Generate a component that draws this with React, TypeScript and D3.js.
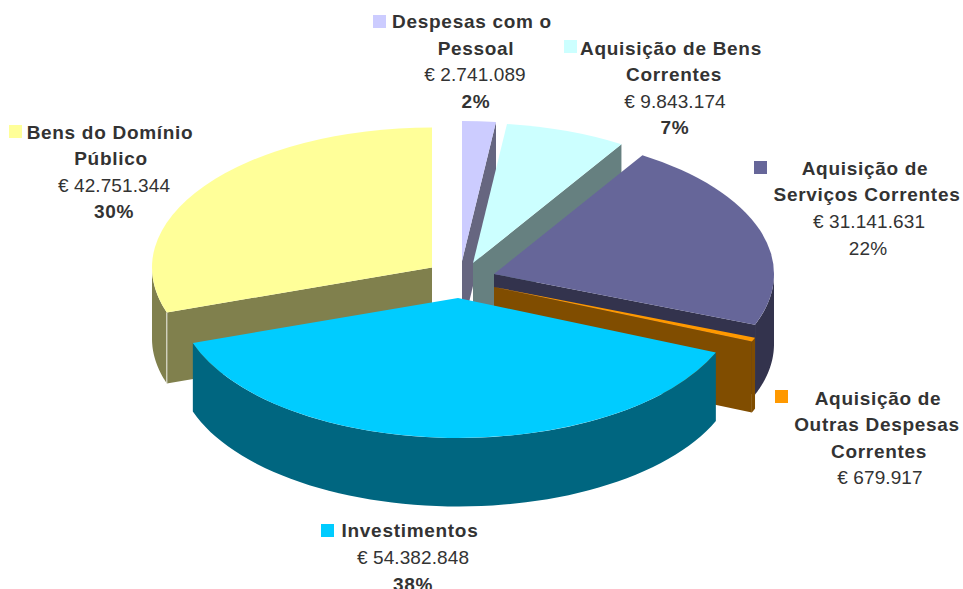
import React from "react";
import * as d3 from "d3";

const categories = ["Despesas com o Pessoal", "Aquisição de Bens Correntes", "Aquisição de Serviços Correntes", "Aquisição de Outras Despesas Correntes", "Investimentos", "Bens do Domínio Público"];
const values = [2741089, 9843174, 31141631, 679917, 54382848, 42751344];
const topColors = ["#CCCCFF", "#CCFFFF", "#666699", "#FF9900", "#00CCFF", "#FFFF99"];
const sideColors = ["#666680", "#668080", "#33334D", "#804D00", "#006680", "#80804D"];
const valueLabels = ["€ 2.741.089", "€ 9.843.174", "€ 31.141.631", "€ 679.917", "€ 54.382.848", "€ 42.751.344"];
const percentLabels = ["2%", "7%", "22%", "", "38%", "30%"];
const nameLines = [["Despesas com o", "Pessoal"], ["Aquisição de Bens", "Correntes"], ["Aquisição de", "Serviços Correntes"], ["Aquisição de", "Outras Despesas", "Correntes"], ["Investimentos"], ["Bens do Domínio", "Público"]];

// Layout (apex of each exploded slice, label anchors)
const RX = 280, RY = 140;
const depths = [70, 70, 70, 71, 68.5, 71];
const apexes: [number, number][] = [[462, 261], [473, 263], [494, 274], [494, 287], [458, 298], [432, 267.5]];
const swatches: [number, number][] = [[373, 15], [564, 40], [754, 161], [775, 390], [321, 524], [9, 125]];
const lineCenters = [[472, 476, 475, 476], [671, 674, 675, 675], [865, 867, 869, 868], [878, 877, 879, 880], [410, 413, 413], [110, 111, 114, 114]];
const lineBaselines = [[28, 54.5, 81, 107.5], [54.5, 81, 107.5, 134], [174.5, 201, 228, 254.5], [404.5, 431, 457.5, 484], [537, 564, 590.5], [138.5, 165, 191.5, 218]];
const lastPctRegular = [false, false, true, false, false, false];
const drawOrder = [0, 1, 2, 3, 5, 4];

const arcs = d3.pie<number>().sort(null)(values);
const topArc = d3.arc<d3.PieArcDatum<number>>().innerRadius(0).outerRadius(RX);
const line = d3.line();

const pt = (i: number, a: number, dy = 0): [number, number] => [
  apexes[i][0] + RX * Math.sin(a),
  apexes[i][1] - RY * Math.cos(a) + dy,
];

function wall(i: number, a: number) {
  const [x, y] = apexes[i];
  const p = pt(i, a);
  return line([[x, y], p, [p[0], p[1] + depths[i]], [x, y + depths[i]]]) + "Z";
}

function rim(i: number, a0: number, a1: number) {
  const lo = Math.max(a0, Math.PI / 2), hi = Math.min(a1, (3 * Math.PI) / 2);
  if (lo >= hi) return null;
  const angles = d3.range(0, 61).map((k) => lo + ((hi - lo) * k) / 60);
  const upper = angles.map((a) => pt(i, a));
  const lower = angles.slice().reverse().map((a) => pt(i, a, depths[i]));
  return line([...upper, ...lower]) + "Z";
}

export default function App() {
  const font = "'Liberation Sans', Arial, sans-serif";
  return (
    <svg width={963} height={589} style={{ position: "absolute", left: 0, top: 0, background: "#fff" }} fontFamily={font}>
      {drawOrder.map((i) => {
        const d = arcs[i];
        const r = rim(i, d.startAngle, d.endAngle);
        // a wall is visible when its outward normal faces the viewer
        const showEnd = d.endAngle < Math.PI;
        const showStart = d.startAngle > Math.PI;
        const edge = showStart ? pt(i, d.startAngle) : null;
        return (
          <g key={categories[i]}>
            {showEnd && <path d={wall(i, d.endAngle)} fill={sideColors[i]} />}
            {showStart && <path d={wall(i, d.startAngle)} fill={sideColors[i]} />}
            {r && <path d={r} fill={sideColors[i]} />}
            {edge && (
              <line x1={edge[0]} x2={edge[0]} y1={edge[1]} y2={edge[1] + depths[i]} stroke="#fff" strokeWidth={1} opacity={0.85} />
            )}
            <g transform={`translate(${apexes[i][0]},${apexes[i][1]}) scale(1,${RY / RX})`}>
              <path d={topArc(d) as string} fill={topColors[i]} />
            </g>
          </g>
        );
      })}
      {categories.map((c, i) => {
        const lines = [...nameLines[i].map((t) => ({ t, bold: true })), { t: valueLabels[i], bold: false }];
        if (percentLabels[i]) lines.push({ t: percentLabels[i], bold: !lastPctRegular[i] });
        return (
          <g key={c}>
            <rect x={swatches[i][0]} y={swatches[i][1]} width={13} height={13} fill={topColors[i]} />
            {lines.map((l, k) => (
              <text
                key={k}
                x={lineCenters[i][k]}
                y={lineBaselines[i][k]}
                textAnchor="middle"
                fontSize={19}
                fontWeight={l.bold ? 700 : 400}
                letterSpacing={l.bold ? 0.7 : 0.1}
                fill="#333333"
              >
                {l.t}
              </text>
            ))}
          </g>
        );
      })}
    </svg>
  );
}
